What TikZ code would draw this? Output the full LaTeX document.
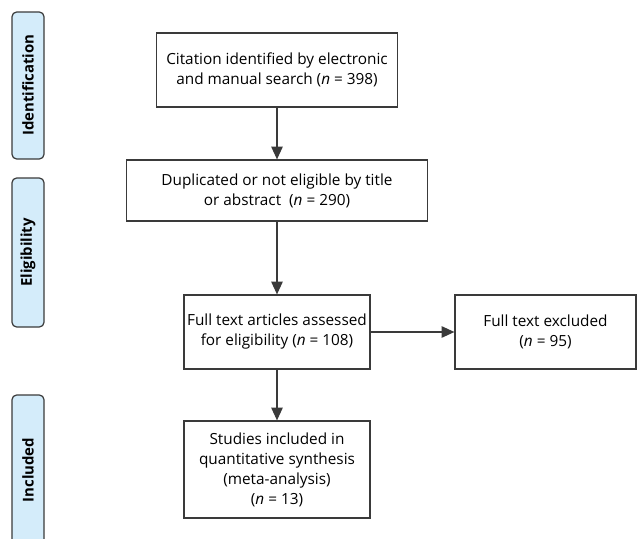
\documentclass[tikz,border=0pt]{standalone}
\usepackage{fontspec}
\setmainfont{Open Sans}
\usetikzlibrary{arrows.meta}
\definecolor{sidefill}{HTML}{D4ECFA}
\definecolor{linegray}{HTML}{3A3A3A}
\begin{document}
\begin{tikzpicture}[x=0.75pt,y=-0.75pt,
  flowbox/.style={draw=linegray,line width=0.9pt,fill=white,align=center,inner sep=0pt,font=\fontsize{11.5}{15}\selectfont},
  sidebox/.style={draw=linegray,line width=0.9pt,fill=sidefill,rounded corners=3.5pt},
  sidelabel/.style={rotate=90,font=\bfseries\fontsize{11.2}{12}\selectfont},
  flowarrow/.style={draw=linegray,line width=1pt,-{Triangle[length=9.5pt,width=8.5pt]}}]
\useasboundingbox (0,0) rectangle (637,539);
\clip (0,0) rectangle (637,539);
% side phase boxes
\draw[sidebox] (12,12) rectangle (44,159);
\draw[sidebox] (12,178) rectangle (44,327);
\draw[sidebox] (12,395) rectangle (44,570);
\node[sidelabel] (lid) at (28,85) {Identification};
\node[sidelabel] (lel) at (28,252.5) {Eligibility};
\node[sidelabel] (lin) at (28,470) {Included};
% flow boxes
\node[flowbox,minimum width=180.75pt,minimum height=55.5pt] (b1) at (277,70) {Citation identified by electronic\\and manual search (\textit{n} = 398)};
\node[flowbox,minimum width=225.75pt,minimum height=45.75pt] (b2) at (277,190.5) {Duplicated or not eligible by title\\or abstract \ (\textit{n} = 290)};
\node[flowbox,minimum width=139.5pt,minimum height=55.5pt] (b3) at (277,332) {Full text articles assessed\\for eligibility (\textit{n} = 108)};
\node[flowbox,minimum width=135.75pt,minimum height=55.5pt] (b4) at (545.5,332) {Full text excluded\\(\textit{n} = 95)};
\node[flowbox,minimum width=139.5pt,minimum height=72.75pt] (b5) at (277,469.5) {Studies included in\\quantitative synthesis\\(meta-analysis)\\(\textit{n} = 13)};
% connectors
\draw[flowarrow] (b1.south) -- (b2.north);
\draw[flowarrow] (b2.south) -- (b3.north);
\draw[flowarrow] (b3.east) -- (b4.west);
\draw[flowarrow] (b3.south) -- (b5.north);
\end{tikzpicture}
\end{document}
